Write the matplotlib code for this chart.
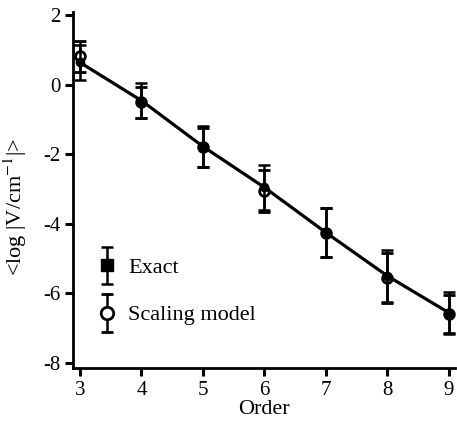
import matplotlib
matplotlib.use('Agg')
import matplotlib.pyplot as plt
from matplotlib.legend_handler import HandlerErrorbar
from matplotlib.lines import Line2D

plt.rcParams['font.family'] = ['Liberation Serif', 'DejaVu Serif']
plt.rcParams['mathtext.fontset'] = 'stix'
plt.rcParams['axes.unicode_minus'] = False

order = [3, 4, 5, 6, 7, 8, 9]
exact = [0.65, -0.45, -1.77, -2.95, -4.25, -5.5, -6.56]
exact_err = [0.5, 0.5, 0.6, 0.65, 0.7, 0.75, 0.6]
scaling = [0.82, -0.5, -1.8, -3.05, -4.25, -5.55, -6.6]
scaling_err = [0.45, 0.45, 0.55, 0.6, 0.7, 0.72, 0.55]

fig = plt.figure(figsize=(4.57, 4.29), dpi=100)
ax = fig.add_axes([0.16, 0.142, 0.836, 0.83])

sc = ax.errorbar(order, scaling, yerr=scaling_err, fmt='o', color='black',
                 markerfacecolor='white', markeredgewidth=2, markersize=7,
                 elinewidth=1.8, capsize=4, capthick=1.8,
                 label='Scaling model', zorder=3)
ax.plot(order, exact, '-', color='black', linewidth=2.3, zorder=4)
ex = ax.errorbar(order, exact, yerr=exact_err, fmt='o', color='black',
                 markersize=6, elinewidth=1.8, capsize=4, capthick=1.8,
                 label='Exact', zorder=5)

ax.set_xlim(2.89, 9.1)
ax.set_ylim(-8.15, 2.1)
ax.set_xticks(order)
ax.set_yticks([-8, -6, -4, -2, 0, 2])
ax.spines['top'].set_visible(False)
ax.spines['right'].set_visible(False)
for s in ['left', 'bottom']:
    ax.spines[s].set_linewidth(2)
ax.tick_params(direction='out', length=6, width=2.2, labelsize=15, pad=3)
ax.set_xlabel('Order', fontsize=16, labelpad=0)
ax.set_ylabel(r'<log |V/cm$^{-1}$|>', fontsize=16)
ax.yaxis.set_label_coords(-0.115, 0.452)


def legend_marker(shape):
    def update(h, orig):
        h.update_from(orig)
        if isinstance(h, Line2D) and h.get_marker() not in (None, 'None', 'none', ''):
            h.set_marker(shape)
            h.set_markersize(9)
    return update


ax.legend([ex, sc], ['Exact', 'Scaling model'], loc='center left',
          bbox_to_anchor=(0.037, 0.215), frameon=False,
          fontsize=16, handlelength=1.0, handletextpad=0.45,
          labelspacing=1.2, borderaxespad=0,
          handler_map={ex: HandlerErrorbar(yerr_size=0.85, update_func=legend_marker('s')),
                       sc: HandlerErrorbar(yerr_size=0.85, update_func=legend_marker('o'))})

plt.savefig('out.png', dpi=100)
